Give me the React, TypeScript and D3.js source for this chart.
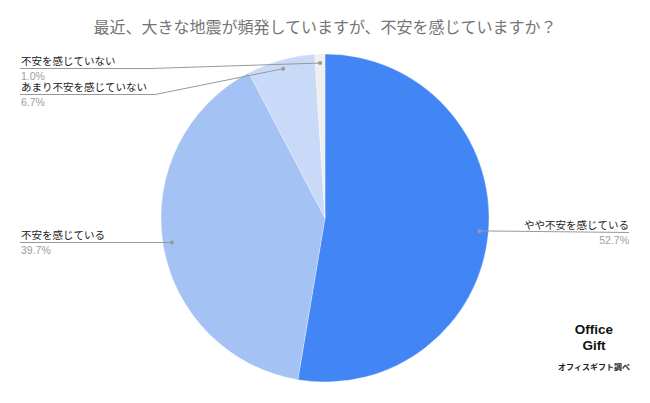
import React from "react";
import * as d3 from "d3";

const categories = ["やや不安を感じている", "不安を感じている", "あまり不安を感じていない", "不安を感じていない"];
const values = [52.7, 39.7, 6.7, 1.0];
const percentLabels = ["52.7%", "39.7%", "6.7%", "1.0%"];
const colors = ["#4285f4", "#a4c2f4", "#c9daf8", "#efefef"];
const titleText = "最近、大きな地震が頻発していますが、不安を感じていますか？";

const W = 650, H = 403;
const cx = 325, cy = 218, R = 164;
const FONT = "'Liberation Sans', Arial, 'Noto Sans CJK JP', sans-serif";

// label layout: [side, labelBaselineY, elbowX]
const layout: Array<{ side: "L" | "R"; y: number; elbow: number }> = [
  { side: "R", y: 229, elbow: 629 },
  { side: "L", y: 239, elbow: 171 },
  { side: "L", y: 91, elbow: 155 },
  { side: "L", y: 65, elbow: 150 },
];

export default function App() {
  const pie = d3.pie<number>().sort(null).value((d) => d)(values);
  const arc = d3.arc<d3.PieArcDatum<number>>().innerRadius(0).outerRadius(R);
  const dotArc = d3.arc<d3.PieArcDatum<number>>().innerRadius(155).outerRadius(155);

  return (
    <svg width={W} height={H} style={{ position: "absolute", left: 0, top: 0, background: "#fff" }}>
      <rect width={W} height={H} fill="#fff" />
      <text x={325} y={33} textAnchor="middle" fontSize={16} fill="#757575" fontFamily={FONT}>
        {titleText}
      </text>
      <g transform={`translate(${cx},${cy})`}>
        {pie.map((p, i) => (
          <path key={i} d={arc(p) || ""} fill={colors[i]} stroke="#fff" strokeWidth={0.3} />
        ))}
      </g>
      {pie.map((p, i) => {
        const [dx, dy] = dotArc.centroid(p);
        const px = cx + dx, py = cy + dy;
        const L = layout[i];
        const lineY = L.y + 3.5;
        const pts =
          L.side === "L"
            ? `20,${lineY} ${L.elbow},${lineY} ${px},${py}`
            : `${px},${py} ${L.elbow},${lineY}`;
        const tx = L.side === "L" ? 21 : 629;
        const anchor = L.side === "L" ? "start" : "end";
        return (
          <g key={i}>
            <polyline points={pts} fill="none" stroke="#999" strokeWidth={1} />
            <circle cx={px} cy={py} r={2} fill="#999" />
            <text x={tx} y={L.y} textAnchor={anchor} fontSize={10.5} fill="#222" fontFamily={FONT}>
              {categories[i]}
            </text>
            <text x={tx} y={L.y + 15} textAnchor={anchor} fontSize={10.5} fill="#9e9e9e" fontFamily={FONT}>
              {percentLabels[i]}
            </text>
          </g>
        );
      })}
      <text x={594} y={334} textAnchor="middle" fontSize={13.5} fontWeight="bold" fill="#111" fontFamily={FONT}>
        Office
      </text>
      <text x={594} y={350} textAnchor="middle" fontSize={13.5} fontWeight="bold" fill="#111" fontFamily={FONT}>
        Gift
      </text>
      <text x={594} y={370} textAnchor="middle" fontSize={8} fontWeight="bold" fill="#222" fontFamily={FONT}>
        オフィスギフト調べ
      </text>
    </svg>
  );
}
